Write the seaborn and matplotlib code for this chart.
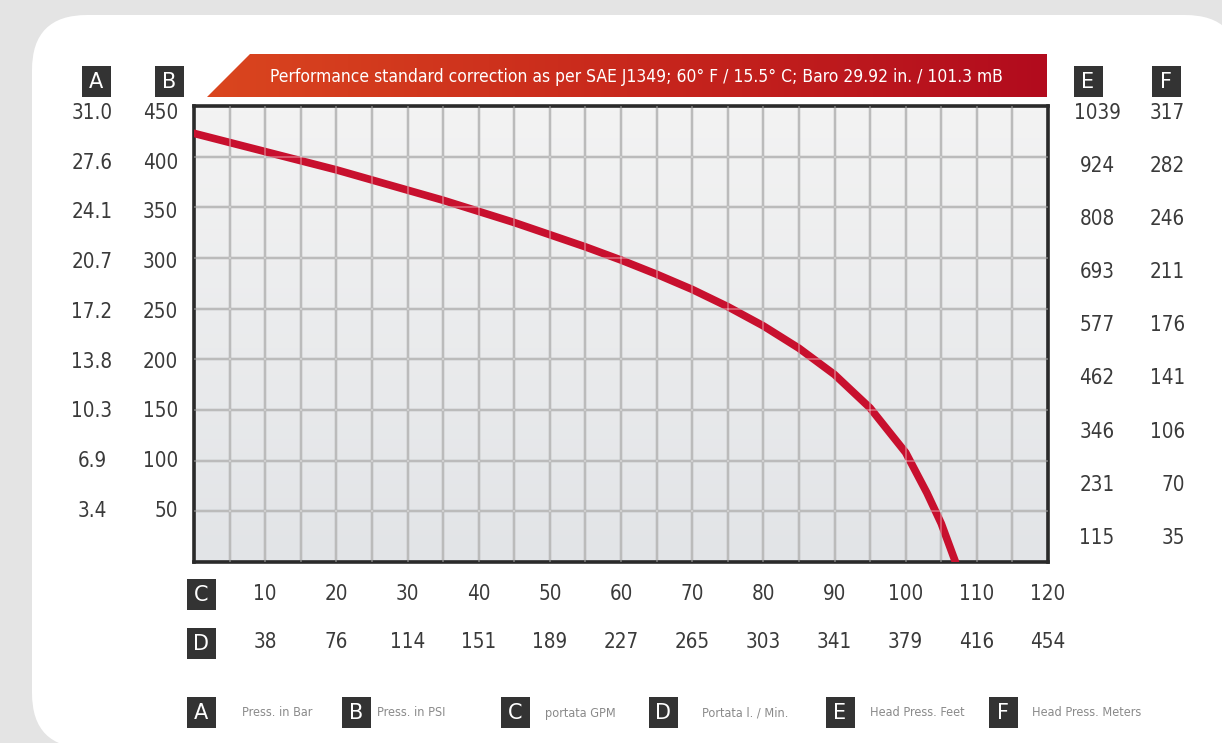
import matplotlib
matplotlib.use('Agg')
import matplotlib.pyplot as plt
import matplotlib.font_manager as fm
import matplotlib.transforms as mtransforms
from matplotlib.colors import LinearSegmentedColormap
from matplotlib.patches import FancyBboxPatch, Polygon, Rectangle
import numpy as np
import seaborn as sns

# ─── Data ───
GPM = [0, 5, 10, 15, 20, 25, 30, 35, 40, 45, 50, 55, 60, 65, 70, 75, 80, 85, 90, 95, 100, 103, 104, 105, 107]
PSI = [423, 414, 405, 396, 387, 377, 367, 357, 346, 335, 323, 311, 298, 284, 269, 252, 233, 211, 185, 152, 108, 68, 53, 38, 0]

B_PSI = [450, 400, 350, 300, 250, 200, 150, 100, 50]
A_BAR = ['31.0', '27.6', '24.1', '20.7', '17.2', '13.8', '10.3', '6.9', '3.4']
C_GPM = [10, 20, 30, 40, 50, 60, 70, 80, 90, 100, 110, 120]
D_LMIN = ['38', '76', '114', '151', '189', '227', '265', '303', '341', '379', '416', '454']
E_FEET = [1039, 924, 808, 693, 577, 462, 346, 231, 115]
F_METERS = ['317', '282', '246', '211', '176', '141', '106', '70', '35']

LEGEND = [('A', 'Press. in Bar'), ('B', 'Press. in PSI'), ('C', 'portata GPM'),
          ('D', 'Portata l. / Min.'), ('E', 'Head Press. Feet'), ('F', 'Head Press. Meters')]
TITLE = 'Performance standard correction as per SAE J1349; 60\u00b0 F / 15.5\u00b0 C; Baro 29.92 in. / 101.3 mB'

# ─── Style ───
sns.set_style('white')


def pick_narrow_font():
    """Cherche une police condensée installée (Narrow / Condensed)."""
    prefs = ['LiberationSansNarrow-Regular', 'DejaVuSansCondensed.ttf', 'Condensed-Regular',
             'Condensed.ttf', 'Narrow-Regular', 'Narrow.ttf']
    files = [f.fname for f in fm.fontManager.ttflist]
    for key in prefs:
        for fn in files:
            if key.lower() in fn.lower() and 'bold' not in fn.lower() and 'oblique' not in fn.lower():
                return fm.FontProperties(fname=fn)
    for f in fm.fontManager.ttflist:
        if f.stretch in ('condensed', 'semi-condensed') and f.weight in (400, 'normal') and f.style == 'normal':
            return fm.FontProperties(fname=f.fname)
    return fm.FontProperties(family='Roboto')


NARROW = pick_narrow_font()
plt.rcParams['font.family'] = ['DejaVu Sans']

W, H = 1222, 743
fig = plt.figure(figsize=(W / 100, H / 100), dpi=100)
fig.patch.set_facecolor('#e4e4e4')

# background layer in pixel coords
bg = fig.add_axes([0, 0, 1, 1], zorder=0)
bg.set_xlim(0, W)
bg.set_ylim(H, 0)
bg.axis('off')
bg.add_patch(FancyBboxPatch((32, 15), 1208, 733, boxstyle='round,pad=0,rounding_size=55',
                            fc='white', ec='none', zorder=0.5))
bg.add_patch(Rectangle((600, 300), 700, 500, fc='white', ec='none', zorder=0.5))

# title banner with gradient
banner = Polygon([(207, 97), (250, 54), (1047, 54), (1047, 97)], closed=True,
                 fc='none', ec='none')
bg.add_patch(banner)
cmap = LinearSegmentedColormap.from_list('ban', ['#da461f', '#c8281c', '#b20b1e'])
grad = np.linspace(0, 1, 256).reshape(1, -1)
im = bg.imshow(grad, extent=[207, 1047, 97, 54], cmap=cmap, aspect='auto', zorder=2)
im.set_clip_path(banner)
title = bg.text(636, 77, TITLE, color='white', ha='center', va='center',
                fontproperties=NARROW, zorder=3)
title.set_fontsize(14)


def letter_box(cx, cy, letter):
    bg.add_patch(Rectangle((cx - 14.5, cy - 15.5), 29, 31, fc='#333333', ec='none', zorder=2))
    bg.text(cx, cy + 1, letter, color='white', fontsize=15, ha='center', va='center',
            family='DejaVu Sans', zorder=3)


for cx, cy, lt in [(96, 81, 'A'), (169, 81, 'B'), (1088, 81, 'E'), (1166, 81, 'F'),
                   (201, 594, 'C'), (201, 643, 'D')]:
    letter_box(cx, cy, lt)

# bottom legend
leg_box_x = [201, 356, 515, 663, 840, 1003]
leg_txt_x = [242, 377, 545, 702, 870, 1032]
leg_w = [73, 80, 72, 85, 90, 106]
leg_texts = []
for (lt, txt), bx, tx in zip(LEGEND, leg_box_x, leg_txt_x):
    letter_box(bx, 712, lt)
    t = bg.text(tx, 713, txt, color='#8a8a8a', ha='left', va='center', fontproperties=NARROW, zorder=3)
    t.set_fontsize(11)
    leg_texts.append(t)

# ─── Main chart ───
rect = [194 / W, 1 - 562 / H, (1048 - 194) / W, (562 - 106) / H]
ax = fig.add_axes(rect, zorder=2)
shade = np.linspace(0, 1, 100).reshape(-1, 1)
ax.imshow(shade, cmap=LinearSegmentedColormap.from_list('bgp', ['#f3f3f3', '#e2e4e7']),
          extent=[0, 1, 0, 1], transform=ax.transAxes, aspect='auto', zorder=0)

ax.set_xticks(np.arange(0, 121, 5))
ax.set_yticks(np.arange(0, 451, 50))
ax.grid(True, color='#a0a0a0', linewidth=1.7, zorder=1)
ax.set_axisbelow(True)

sns.lineplot(x=GPM, y=PSI, ax=ax, color='#c8102e', linewidth=5.5, zorder=3, sort=False)
ax.lines[-1].set_solid_joinstyle('round')

# light grid lines drawn across the curve
for gx in np.arange(5, 120, 5):
    ax.axvline(gx, color='white', alpha=0.35, linewidth=1.2, zorder=4)
for gy in np.arange(50, 450, 50):
    ax.axhline(gy, color='white', alpha=0.35, linewidth=1.2, zorder=4)

ax.set_xlim(0, 120)
ax.set_ylim(0, 450)
ax.tick_params(length=0, labelbottom=False, labelleft=False)
ax.set_xlabel('')
ax.set_ylabel('')
for sp in ax.spines.values():
    sp.set_visible(True)
    sp.set_color('#2a2a2a')
    sp.set_linewidth(2.6)

# label axes (left: PSI/bar, right: feet/meters)
axL = fig.add_axes(rect, zorder=1)
axL.axis('off')
axL.set_ylim(-1.3, 457)
axR = fig.add_axes(rect, zorder=1)
axR.axis('off')
axR.set_ylim(62.8, 1054.2)

LAB_FS = 15
lab_texts = []


def lab(axis, x, y, s, ha, trans):
    t = axis.text(x, y, s, transform=trans, ha=ha, va='center', color='#3a3a3a',
                  fontproperties=NARROW)
    t.set_fontsize(LAB_FS)
    lab_texts.append(t)


tL = mtransforms.blended_transform_factory(fig.transFigure, axL.transData)
for v, a in zip(B_PSI, A_BAR):
    lab(axL, 92 / W, v, a, 'center', tL)
    lab(axL, 178 / W, v, str(v), 'right', tL)

tR = mtransforms.blended_transform_factory(fig.transFigure, axR.transData)
for v, f in zip(E_FEET, F_METERS):
    lab(axR, 1097 / W, v, str(v), 'center', tR)
    lab(axR, 1185 / W, v, f, 'right', tR)

tB = mtransforms.blended_transform_factory(ax.transData, fig.transFigure)
for g, d in zip(C_GPM, D_LMIN):
    lab(ax, g, 1 - 594 / H, str(g), 'center', tB)
    lab(ax, g, 1 - 642 / H, d, 'center', tB)

# fit banner / legend / tick text widths to the reference
fig.canvas.draw()
r = fig.canvas.get_renderer()
w = title.get_window_extent(r).width
title.set_fontsize(min(19, title.get_fontsize() * 737 / w))
leg_scale = min(tw / t.get_window_extent(r).width for t, tw in zip(leg_texts, leg_w))
for t in leg_texts:
    t.set_fontsize(11 * min(1.0, leg_scale * 1.05))
# "31.0" is about 41 px wide in the reference
ref = lab_texts[0]
scale = min(1.0, 41 / ref.get_window_extent(r).width)
for t in lab_texts:
    t.set_fontsize(LAB_FS * scale)

fig.savefig('out.png', dpi=100, facecolor=fig.get_facecolor())
